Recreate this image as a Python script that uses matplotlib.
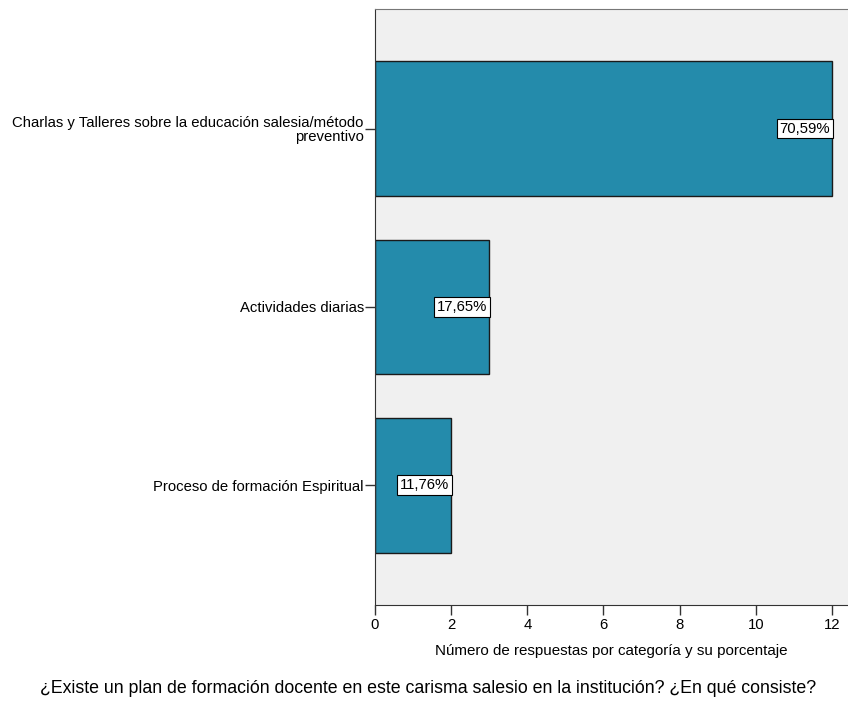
import matplotlib.pyplot as plt

# data
categorias = ['Charlas y Talleres sobre la educación salesia/método\npreventivo',
              'Actividades diarias',
              'Proceso de formación Espiritual']
respuestas = [12, 3, 2]
porcentajes = ['70,59%', '17,65%', '11,76%']
xticks = [0, 2, 4, 6, 8, 10, 12]

plt.rcParams['font.family'] = ['Liberation Sans', 'DejaVu Sans']

fig = plt.figure(figsize=(8.48, 7.05), dpi=100)
ax = fig.add_axes([0.4422, 0.1418, 0.5578, 0.8455])
ax.set_facecolor('#f0f0f0')

pos = list(range(len(categorias)))
ax.barh(pos, respuestas, height=0.755, color='#248bab', edgecolor='#1a1a1a', linewidth=1)

# percentage boxes at the end of each bar
for p, v, t in zip(pos, respuestas, porcentajes):
    ax.text(v - 0.05, p, t, ha='right', va='center', fontsize=10.7,
            bbox=dict(boxstyle='square,pad=0.2', facecolor='white', edgecolor='black', linewidth=0.8))

ax.set_ylim(2.67, -0.67)
ax.set_xlim(0, 12.42)
ax.set_yticks(pos)
ax.set_yticklabels(categorias, fontsize=10.7, linespacing=1.0)
ax.set_xticks(xticks)
ax.set_xticklabels([str(x) for x in xticks], fontsize=10.7)
ax.tick_params(axis='both', direction='out', length=7, width=1, color='#333333', pad=1)
ax.tick_params(axis='x', pad=2)

ax.spines['right'].set_visible(False)
ax.spines['top'].set_color('#777777')
ax.spines['left'].set_color('#333333')
ax.spines['bottom'].set_color('#333333')

ax.set_xlabel('Número de respuestas por categoría y su porcentaje', fontsize=10.9, labelpad=9)
fig.text(0.505, 0.024, '¿Existe un plan de formación docente en este carisma salesio en la institución? ¿En qué consiste?',
         ha='center', va='center', fontsize=12.8)

fig.savefig('out.png', dpi=100)
